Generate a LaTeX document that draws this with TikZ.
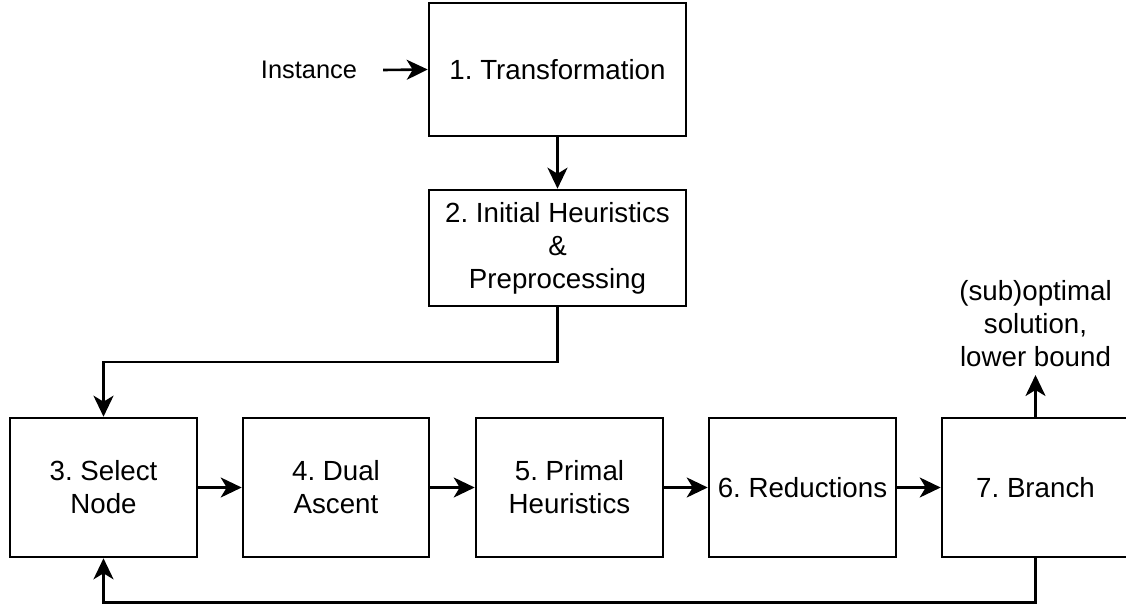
\documentclass[tikz,border=0pt]{standalone}
\usepackage{fontspec}
\setmainfont{Liberation Sans}
\usetikzlibrary{arrows.meta}
\frenchspacing
\begin{document}
\begin{tikzpicture}[x=1pt,y=-1pt,
  box/.style={draw=black, line width=2.6pt, fill=white, inner sep=0pt, align=center,
    font=\fontsize{27.7}{33}\selectfont},
  lbl/.style={inner sep=0pt, align=center, font=\fontsize{27.7}{33}\selectfont},
  arr/.style={line width=2.6pt, -{Stealth[length=21pt,width=20pt,inset=6pt]}},
]
\useasboundingbox (0,0) rectangle (1126,604);
\node[box, minimum width=257pt, minimum height=133pt] (b1) at (557.5,69.5) {1. Transformation};
\node[box, minimum width=257pt, minimum height=116pt] (b2) at (557.5,248) {2. Initial Heuristics\\\&\\Preprocessing};
\node[box, minimum width=187pt, minimum height=139pt] (b3) at (103.5,487.5) {3. Select\\Node};
\node[box, minimum width=186pt, minimum height=139pt] (b4) at (336,487.5) {4. Dual\\Ascent};
\node[box, minimum width=187pt, minimum height=139pt] (b5) at (569.5,487.5) {5. Primal\\Heuristics};
\node[box, minimum width=187pt, minimum height=139pt] (b6) at (802.5,487.5) {6. Reductions};
\node[box, minimum width=187pt, minimum height=139pt] (b7) at (1035.5,487.5) {7. Branch};
\node[inner sep=0pt, font=\fontsize{25.4}{30}\selectfont] (inst) at (309,70) {Instance};
\node[lbl, anchor=south, inner ysep=8pt] (out) at (1035.5,375) {(sub)optimal\\solution,\\lower bound};
\coordinate (c1) at (557.5,362);
\coordinate (c2) at (103.5,362);
\coordinate (c3) at (1035.5,602.5);
\coordinate (c4) at (103.5,602.5);

\draw[arr] ([xshift=26pt]inst.east) -- (b1.west);
\draw[arr] (b1.south) -- (b2.north);
\draw[arr] (b2.south) -- (c1) -- (c2) -- (b3.north);
\draw[arr] (b3.east) -- (b4.west);
\draw[arr] (b4.east) -- (b5.west);
\draw[arr] (b5.east) -- (b6.west);
\draw[arr] (b6.east) -- (b7.west);
\draw[arr] (b7.north) -- (b7.north |- out.south);
\draw[arr] (b7.south) -- (c3) -- (c4) -- (b3.south);
\end{tikzpicture}
\end{document}
